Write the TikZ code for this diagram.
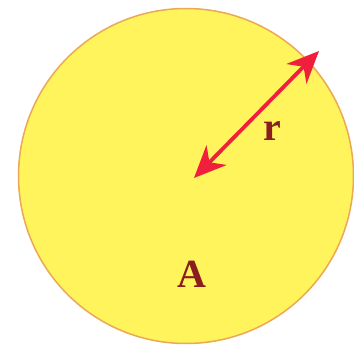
\documentclass[tikz,border=0pt]{standalone}
\usepackage{fontspec}
\setmainfont{Liberation Serif}
\usetikzlibrary{arrows.meta}
\definecolor{disk}{HTML}{FFF45C}
\definecolor{rim}{HTML}{EBA855}
\definecolor{arr}{HTML}{F0203C}
\definecolor{lab}{HTML}{8A1E1E}
\tikzset{
  lbl/.style={text=lab, font=\fontsize{40}{40}\selectfont\bfseries, inner sep=0pt},
  radius arrow/.style={draw=arr, line width=3.8pt, {Stealth[length=32pt,width=28pt,inset=10pt]}-{Stealth[length=32pt,width=28pt,inset=10pt]}}
}
\begin{document}
\begin{tikzpicture}[x=1pt,y=-1pt]
\useasboundingbox (0,0) rectangle (354,351);
\node[circle, fill=disk, draw=rim, line width=1.5pt, minimum size=335pt, inner sep=0pt] (disk) at (186,176) {};
\coordinate (c) at (194,178);
\coordinate (e) at (319,51);
\draw[radius arrow] (c) -- (e);
\node[lbl] (r) at (272,131) {r};
\node[lbl] (A) at (192,274) {A};
\end{tikzpicture}
\end{document}
